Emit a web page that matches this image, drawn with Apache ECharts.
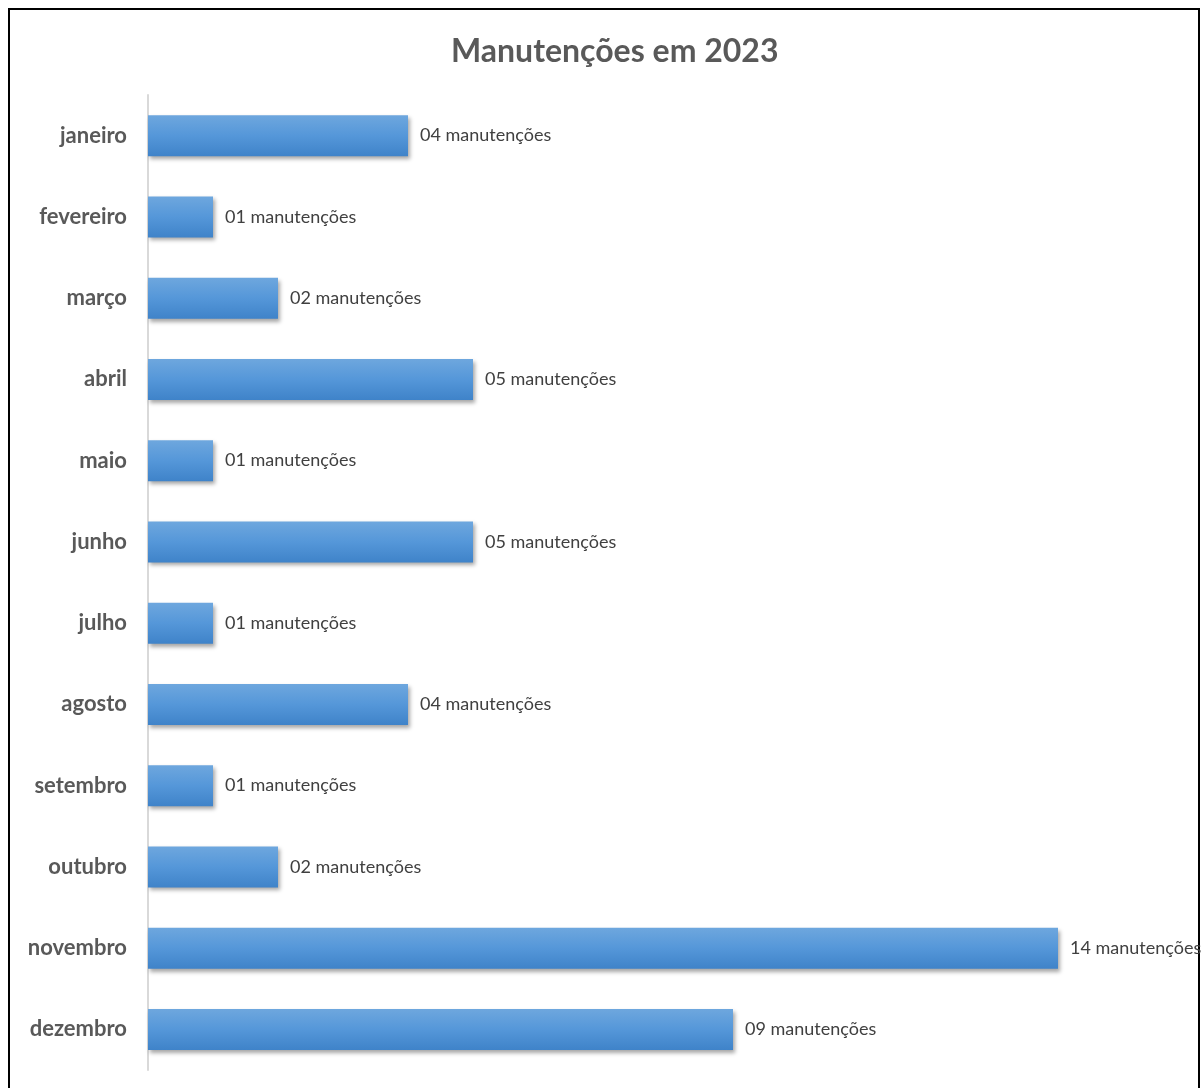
<!DOCTYPE html>
<html>
<head>
<meta charset="utf-8">
<script src="https://cdn.jsdelivr.net/npm/echarts@6/dist/echarts.min.js"></script>
<style>
  html, body { margin: 0; padding: 0; background: #fff; }
  #maindiv { width: 1201px; height: 1088px; }
</style>
</head>
<body>
<div id="maindiv"></div>
<script>
// dados
var meses = ['janeiro', 'fevereiro', 'março', 'abril', 'maio', 'junho',
    'julho', 'agosto', 'setembro', 'outubro', 'novembro', 'dezembro'];
var manutencoes = [4, 1, 2, 5, 1, 5, 1, 4, 1, 2, 14, 9];
var titulo = 'Manutenções em 2023';

var chart = echarts.init(document.getElementById('maindiv'));

var option = {
    animation: false,
    backgroundColor: '#ffffff',
    title: {
        text: titulo,
        left: 446,
        top: 31,
        textStyle: {
            fontFamily: 'Lato',
            fontSize: 32,
            fontWeight: 'bold',
            color: '#595959'
        }
    },
    graphic: [{
        type: 'rect',
        shape: { x: 9, y: 9, width: 1190, height: 1100 },
        style: { fill: 'none', stroke: '#000', lineWidth: 2 }
    }],
    grid: {
        left: 148,
        top: 95,
        width: 1040,
        height: 975,
        containLabel: false
    },
    xAxis: {
        type: 'value',
        min: 0,
        max: 16,
        show: false
    },
    yAxis: {
        type: 'category',
        data: meses,
        inverse: true,
        axisLine: { show: true, lineStyle: { color: '#d9d9d9', width: 2 } },
        axisTick: { show: false },
        axisLabel: {
            margin: 21,
            fontFamily: 'Lato',
            fontSize: 22,
            fontWeight: 'bold',
            color: '#595959'
        }
    },
    series: [{
        type: 'bar',
        data: manutencoes,
        barWidth: 41,
        itemStyle: {
            color: new echarts.graphic.LinearGradient(0, 0, 0, 1, [
                { offset: 0, color: '#6ea7de' },
                { offset: 0.5, color: '#5597d9' },
                { offset: 1, color: '#3f83c9' }
            ]),
            shadowColor: 'rgba(0,0,0,0.35)',
            shadowBlur: 4,
            shadowOffsetX: 2,
            shadowOffsetY: 3
        },
        label: {
            show: true,
            position: 'right',
            distance: 12,
            fontFamily: 'Lato',
            fontSize: 18,
            color: '#404040',
            formatter: function (p) {
                var v = p.value < 10 ? '0' + p.value : '' + p.value;
                return v + ' manutenções';
            }
        }
    }]
};

chart.setOption(option);
</script>
</body>
</html>
